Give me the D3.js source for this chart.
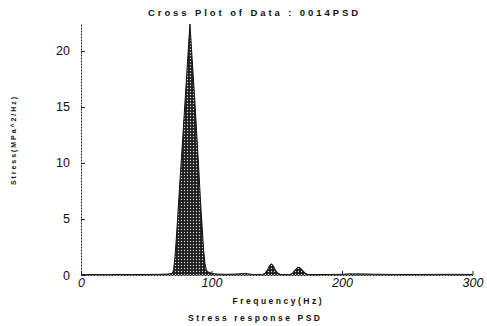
<!DOCTYPE html>
<html>
<head>
<meta charset="utf-8">
<script src="https://cdn.jsdelivr.net/npm/d3@7"></script>
<style>
  html, body { margin: 0; padding: 0; background: #fff; }
  svg { display: block; }
  text { font-family: "Liberation Sans", Arial, sans-serif; fill: #111; }
</style>
</head>
<body>
<svg id="chart" width="487" height="326"></svg>
<script>
// ---- data ----
const titleText = "Cross Plot of Data : 0014PSD";
const xLabel = "Frequency(Hz)";
const yLabel = "Stress(MPa^2/Hz)";
const caption = "Stress response PSD";
const xTicks = [0, 100, 200, 300];
const yTicks = [0, 5, 10, 15, 20];

const frequency = [
  0, 10, 20, 30, 40, 50, 60, 66, 70, 71, 72, 73, 74, 75, 76, 77, 78, 79, 80, 81, 82, 83, 83.5,
  84, 85, 86, 87, 88, 89, 90, 91, 92, 93, 94, 95, 96, 97, 99, 101, 105, 110, 118, 124, 126, 128,
  132, 139, 141, 143, 144.5, 146, 147.5, 149, 151, 153, 157, 160, 162, 164, 166, 168, 170, 172,
  174, 180, 190, 200, 205, 215, 225, 240, 260, 280, 300
];
const stress = [
  0.03, 0.04, 0.03, 0.05, 0.04, 0.05, 0.06, 0.08, 0.15, 0.5, 1.6, 3.2, 5.0, 6.9, 8.7, 10.5, 12.3, 14.2, 16.0, 17.9, 19.7, 21.6, 22.4,
  21.5, 19.6, 17.8, 16.0, 14.0, 12.0, 10.0, 7.8, 5.8, 4.0, 2.2, 1.0, 0.5, 0.3, 0.2, 0.12, 0.08, 0.06, 0.08, 0.12, 0.15, 0.1,
  0.05, 0.05, 0.15, 0.5, 0.85, 1.0, 0.8, 0.45, 0.15, 0.05, 0.04, 0.05, 0.15, 0.45, 0.68, 0.65, 0.4, 0.15,
  0.05, 0.04, 0.05, 0.06, 0.1, 0.1, 0.07, 0.05, 0.05, 0.06, 0.05
];

// ---- layout ----
const svg = d3.select("#chart");
const x = d3.scaleLinear().domain([0, 300]).range([81, 472.5]);
const y = d3.scaleLinear().domain([0, 22.4]).range([275, 24]);

// pattern fill (dot screen)
const defs = svg.append("defs");
const pat = defs.append("pattern")
  .attr("id", "dots").attr("patternUnits", "userSpaceOnUse")
  .attr("width", 3).attr("height", 3);
pat.append("rect").attr("width", 3).attr("height", 3).attr("fill", "#1e1e1e");
pat.append("circle").attr("cx", 1.5).attr("cy", 1.5).attr("r", 0.65).attr("fill", "#dcdcdc");

const data = frequency.map((f, i) => ({ f, v: stress[i] }));

const area = d3.area().x(d => x(d.f)).y0(y(0)).y1(d => y(d.v));
const line = d3.line().x(d => x(d.f)).y(d => y(d.v));

svg.append("path").datum(data).attr("d", area).attr("fill", "url(#dots)");
svg.append("path").datum(data).attr("d", line)
  .attr("fill", "none").attr("stroke", "#111").attr("stroke-width", 1);

// axes
const yAxis = d3.axisLeft(y).tickValues(yTicks).tickSizeInner(-4).tickSizeOuter(0).tickPadding(11);
const xAxis = d3.axisBottom(x).tickValues(xTicks).tickSizeInner(-4).tickSizeOuter(0).tickPadding(3);

const gy = svg.append("g").attr("transform", `translate(${x(0)},0)`).call(yAxis);
const gx = svg.append("g").attr("transform", `translate(0,${y(0)})`).call(xAxis);

[gx, gy].forEach(g => {
  g.select(".domain").attr("stroke", "#222").attr("stroke-width", 1).attr("stroke-dasharray", "2,1");
  g.selectAll(".tick line").attr("stroke", "#222");
  g.selectAll(".tick text").attr("font-family", "Liberation Sans, Arial, sans-serif").attr("fill", "#111");
});
gy.selectAll(".tick text").attr("font-size", 12.5);
gx.selectAll(".tick text").attr("font-size", 12.5).attr("font-style", "italic");

// texts
const lab = "DejaVu Sans, Verdana, sans-serif";
svg.append("text").attr("x", 253).attr("y", 16).attr("text-anchor", "middle")
  .attr("font-family", lab).attr("font-size", 9.5).attr("font-weight", "bold")
  .attr("textLength", 210).attr("lengthAdjust", "spacing").text(titleText);

svg.append("text").attr("x", 277).attr("y", 304).attr("text-anchor", "middle")
  .attr("font-family", lab).attr("font-size", 8.5).attr("font-weight", "bold")
  .attr("textLength", 89).attr("lengthAdjust", "spacing").text(xLabel);

svg.append("text").attr("x", 254).attr("y", 321).attr("text-anchor", "middle")
  .attr("font-family", lab).attr("font-size", 8.5).attr("font-weight", "bold")
  .attr("textLength", 132).attr("lengthAdjust", "spacing").text(caption);

svg.append("text").attr("transform", "translate(16,141) rotate(-90)").attr("text-anchor", "middle")
  .attr("font-family", lab).attr("font-size", 7).attr("font-weight", "bold")
  .attr("textLength", 88).attr("lengthAdjust", "spacing").text(yLabel);
</script>
</body>
</html>
